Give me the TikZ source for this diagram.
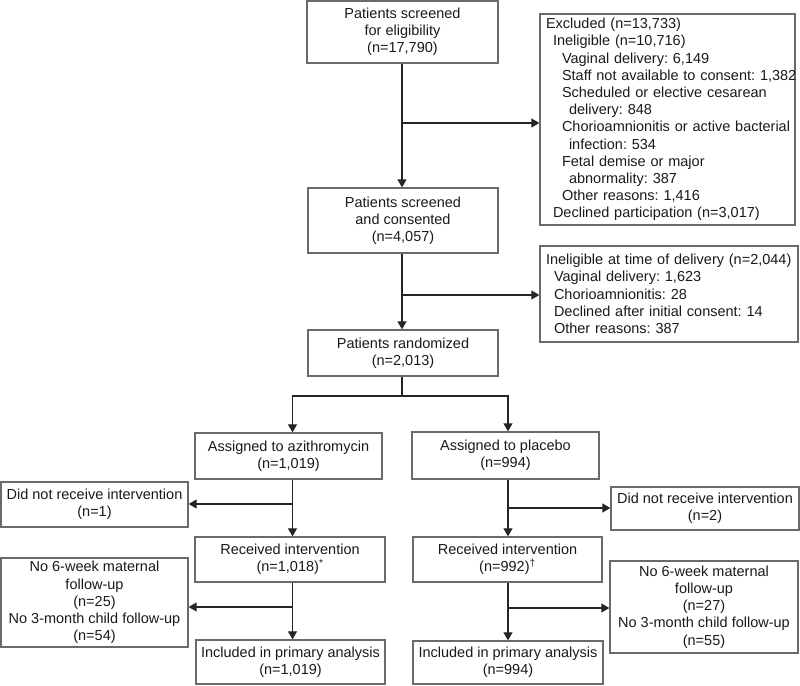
\documentclass[tikz,border=0pt]{standalone}
\usepackage{fontspec}
\setmainfont{Liberation Sans}
\usetikzlibrary{arrows.meta}
\definecolor{boxgray}{HTML}{6A6A6A}
\definecolor{linecol}{HTML}{252525}
\definecolor{textcol}{HTML}{1A1A1A}
\newcommand{\fsz}{\fontsize{14.5}{17.2}\selectfont\frenchspacing}
\begin{document}
\begin{tikzpicture}[x=1pt,y=-1pt,
  box/.style={draw=boxgray, line width=1.3pt, fill=white, inner sep=0pt, align=center, font=\fsz, text=textcol},
  lbox/.style={box, align=left, inner xsep=0pt},
  conn/.style={line width=1.1pt, draw=linecol},
  arr/.style={conn, -{Triangle[width=9pt,length=8pt]}}]
\useasboundingbox (0,0) rectangle (800,685);

% boxes
\node[box, minimum width=191pt, minimum height=62pt] (scr) at (402.5,32) {Patients screened\\for eligibility\\(n=17,790)};
\node[lbox, minimum width=255pt, minimum height=211pt, text width=255pt] (excl) at (667.5,119.5) {\hspace*{6pt}Excluded (n=13,733)\\
\hspace*{13pt}Ineligible (n=10,716)\\
\hspace*{22pt}Vaginal delivery: 6,149\\
\mbox{\hspace*{22pt}Staff not available to consent: 1,382}\\
\hspace*{22pt}Scheduled or elective cesarean\\
\hspace*{29pt}delivery: 848\\
\mbox{\hspace*{22pt}Chorioamnionitis or active bacterial}\\
\hspace*{29pt}infection: 534\\
\hspace*{22pt}Fetal demise or major\\
\hspace*{29pt}abnormality: 387\\
\hspace*{22pt}Other reasons: 1,416\\
\hspace*{13pt}Declined participation (n=3,017)};
\node[box, minimum width=190pt, minimum height=65pt] (cons) at (403,220.5) {Patients screened\\and consented\\(n=4,057)};
\node[lbox, minimum width=258pt, minimum height=96pt, text width=258pt] (inel) at (669,294) {\mbox{\hspace*{6pt}Ineligible at time of delivery (n=2,044)}\\
\hspace*{14pt}Vaginal delivery: 1,623\\
\hspace*{14pt}Chorioamnionitis: 28\\
\hspace*{14pt}Declined after initial consent: 14\\
\hspace*{14pt}Other reasons: 387};
\node[box, minimum width=190pt, minimum height=46pt] (rand) at (403,353) {Patients randomized\\(n=2,013)};
\node[box, minimum width=187pt, minimum height=46pt] (azi) at (288.5,456) {Assigned to azithromycin\\(n=1,019)};
\node[box, minimum width=187pt, minimum height=47pt] (plc) at (505.5,455.5) {Assigned to placebo\\(n=994)};
\node[box, minimum width=187pt, minimum height=45pt] (dnr1) at (94.5,504.5) {Did not receive intervention\\(n=1)};
\node[box, minimum width=188pt, minimum height=43pt] (dnr2) at (705,508.5) {Did not receive intervention\\(n=2)};
\node[box, minimum width=190pt, minimum height=45pt] (rec1) at (290,559.5) {Received intervention\\(n=1,018)\textsuperscript{*}};
\node[box, minimum width=189pt, minimum height=45pt] (rec2) at (507.5,559.5) {Received intervention\\(n=992)\textsuperscript{†}};
\node[box, minimum width=187pt, minimum height=89pt] (fu1) at (94.5,602.5) {No 6-week maternal\\follow-up\\(n=25)\\No 3-month child follow-up\\(n=54)};
\node[box, minimum width=188pt, minimum height=92pt] (fu2) at (704,607) {No 6-week maternal\\follow-up\\(n=27)\\No 3-month child follow-up\\(n=55)};
\node[box, minimum width=189pt, minimum height=44pt] (inc1) at (290.5,662) {Included in primary analysis\\(n=1,019)};
\node[box, minimum width=190pt, minimum height=43pt] (inc2) at (508,662.5) {Included in primary analysis\\(n=994)};

% junctions
\coordinate (j1) at (402,123);
\coordinate (j2) at (402,295);
\coordinate (j3) at (402,396);
\coordinate (sl) at (292.5,396);
\coordinate (sr) at (508,396);
\coordinate (ja) at (292.5,504);
\coordinate (jp) at (508,508);
\coordinate (jb) at (292.5,607);
\coordinate (jq) at (508,608);

% connectors
\draw[arr] (scr.south -| j1) -- (cons.north -| j1);
\draw[arr] (j1) -- (excl.west |- j1);
\draw[arr] (cons.south -| j2) -- (rand.north -| j2);
\draw[arr] (j2) -- (inel.west |- j2);
\draw[conn] (rand.south -| j3) -- (j3);
\draw[arr] (j3) -- (sl) -- (azi.north -| sl);
\draw[arr] (j3) -- (sr) -- (plc.north -| sr);
\draw[arr] (azi.south -| ja) -- (rec1.north -| ja);
\draw[arr] (ja) -- (dnr1.east |- ja);
\draw[arr] (plc.south -| jp) -- (rec2.north -| jp);
\draw[arr] (jp) -- (dnr2.west |- jp);
\draw[arr] (rec1.south -| jb) -- (inc1.north -| jb);
\draw[arr] (jb) -- (fu1.east |- jb);
\draw[arr] (rec2.south -| jq) -- (inc2.north -| jq);
\draw[arr] (jq) -- (fu2.west |- jq);
\end{tikzpicture}
\end{document}
